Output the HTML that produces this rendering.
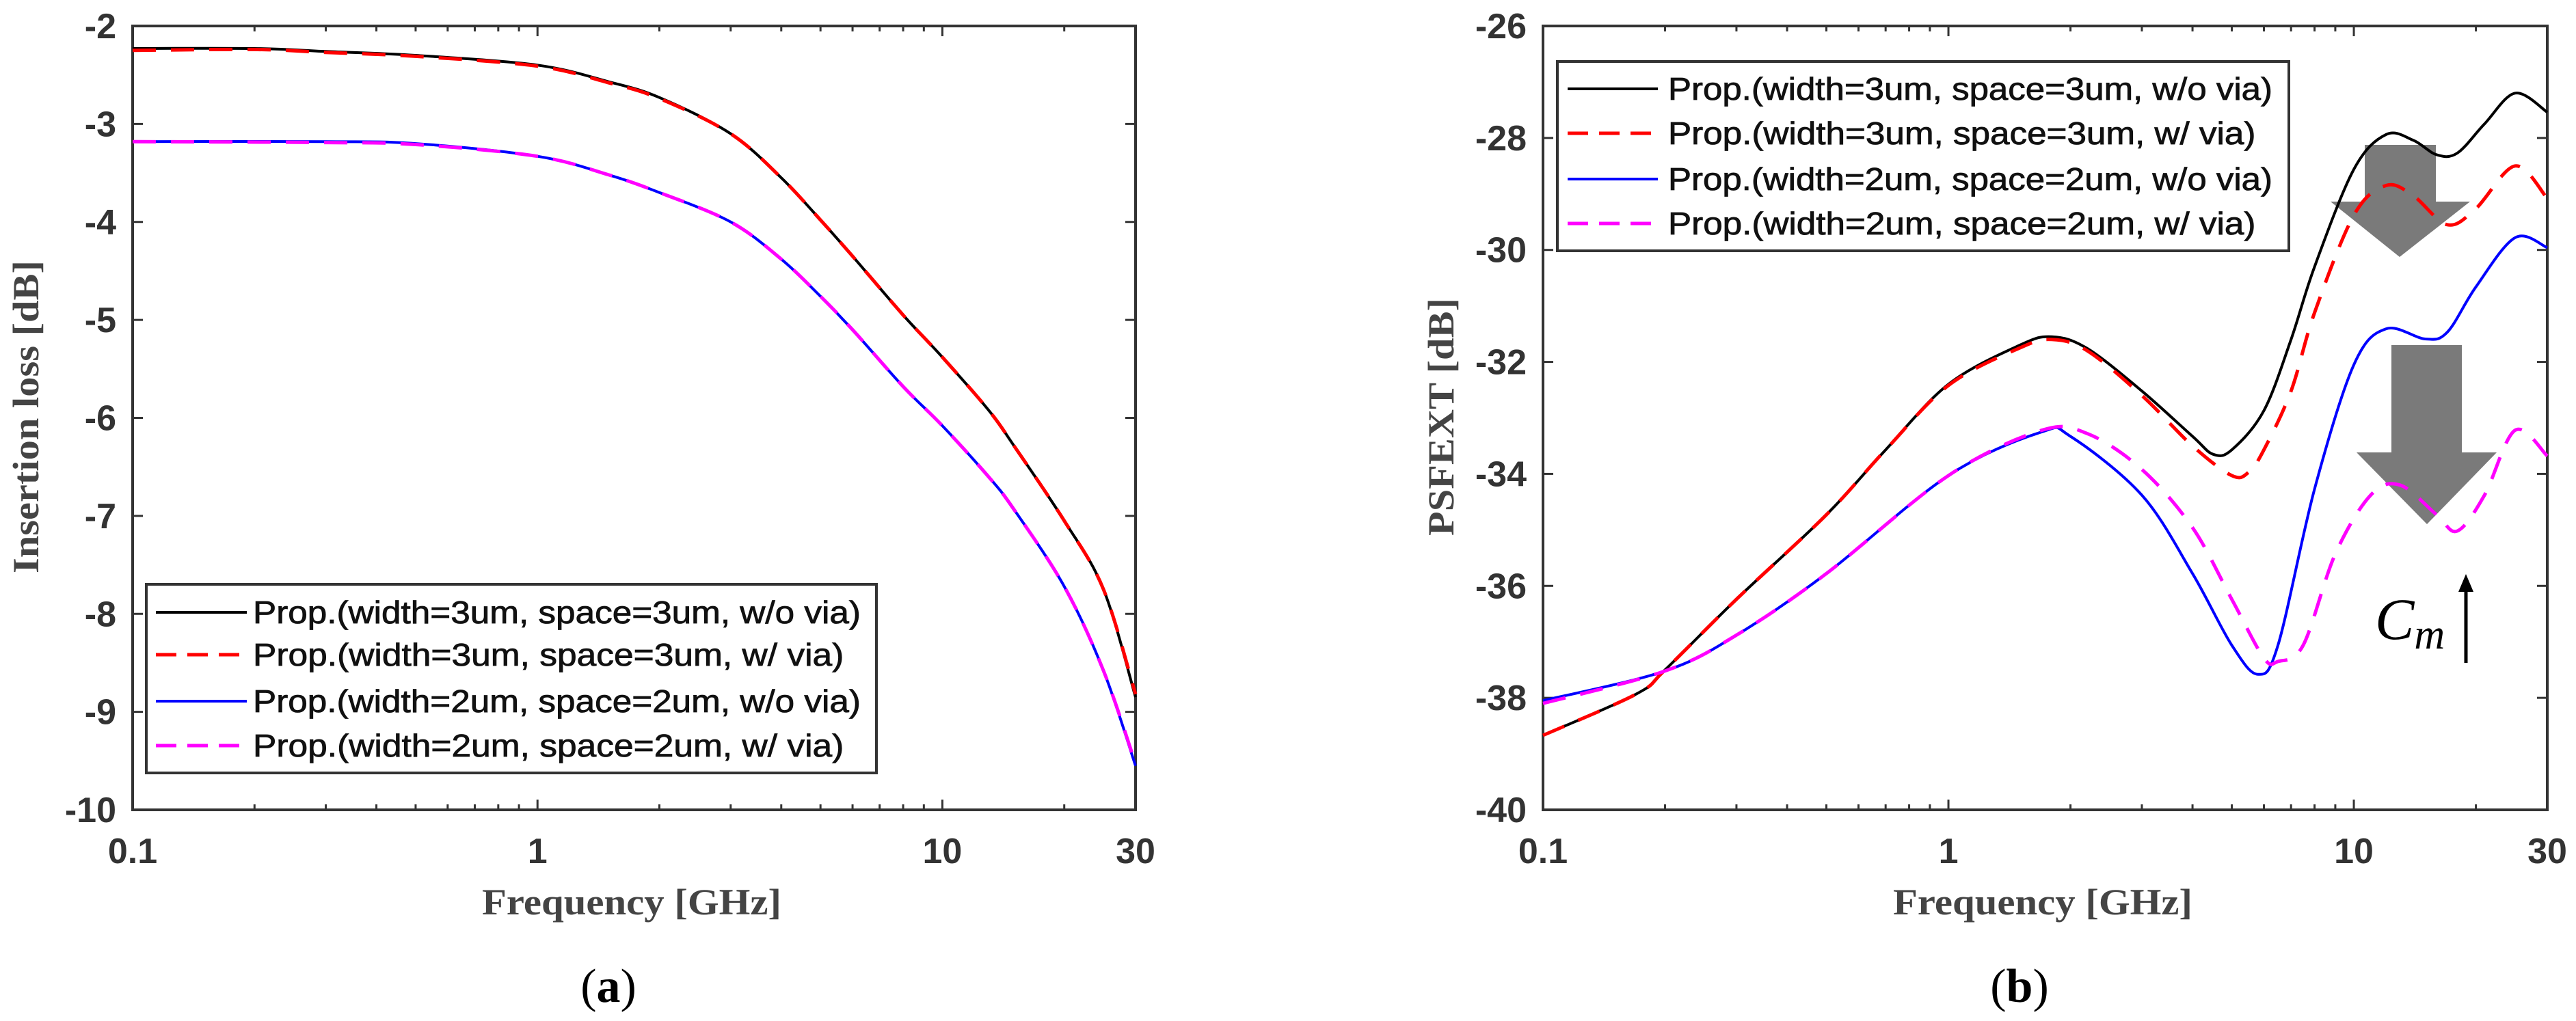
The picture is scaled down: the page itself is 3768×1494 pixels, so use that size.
<!DOCTYPE html>
<html><head><meta charset="utf-8"><style>
html,body{margin:0;padding:0;background:#fff;}
svg{display:block;}
</style></head><body>
<svg id="fig" width="3768" height="1494" viewBox="0 0 3768 1494" xmlns="http://www.w3.org/2000/svg">
<g id="pa"></g>
<g id="pb"></g>
</svg>
<script>
const NS="http://www.w3.org/2000/svg";
// Panel (a) data
const aFreqTop=[0.1,0.2,0.3,0.5,1,1.5,2,3,4,5,6,8,10,13,15,20,25,30];
const aBlack=[-2.23,-2.23,-2.26,-2.3,-2.4,-2.57,-2.73,-3.1,-3.55,-3.98,-4.35,-4.95,-5.38,-5.92,-6.28,-7.05,-7.75,-8.85];
const aRed=[-2.25,-2.24,-2.27,-2.31,-2.41,-2.58,-2.74,-3.1,-3.55,-3.98,-4.35,-4.95,-5.38,-5.92,-6.28,-7.05,-7.75,-8.82];
const aFreqBot=[0.1,0.3,0.5,1,1.5,2,3,4,5,6,8,10,13,15,20,25,30];
const aBlue=[-3.18,-3.18,-3.2,-3.33,-3.52,-3.7,-4.0,-4.38,-4.76,-5.1,-5.68,-6.08,-6.6,-6.93,-7.72,-8.58,-9.55];
const aMag=[-3.18,-3.19,-3.21,-3.33,-3.52,-3.7,-4.0,-4.38,-4.76,-5.1,-5.68,-6.08,-6.6,-6.93,-7.72,-8.58,-9.53];
const aYTicks=[-2,-3,-4,-5,-6,-7,-8,-9,-10];
// Panel (b) data
const bFreqK=[0.1,0.17,0.2,0.3,0.5,0.7,1,1.5,1.8,2.2,3,4,4.5,5,6,7,8,10,12,14,16,18,21,25,30];
const bBlack=[-38.67,-37.93,-37.5,-36.24,-34.73,-33.57,-32.4,-31.7,-31.55,-31.76,-32.52,-33.33,-33.65,-33.57,-32.87,-31.6,-30.3,-28.56,-27.94,-28.04,-28.3,-28.27,-27.75,-27.2,-27.54];
const bFreqR=[0.1,0.17,0.2,0.3,0.5,0.7,1,1.5,1.8,2.2,3,4,5,5.5,6,7,8,10,12,14,17,20,25,30];
const bRed=[-38.67,-37.93,-37.5,-36.24,-34.73,-33.57,-32.42,-31.75,-31.6,-31.8,-32.6,-33.5,-34.03,-33.97,-33.57,-32.52,-31.12,-29.38,-28.85,-29.03,-29.55,-29.26,-28.5,-29.08];
const bFreqB=[0.1,0.2,0.3,0.5,1,1.7,2,3,4,5,5.8,6.5,8,10,12,15,17,20,25,30];
const bBlue=[-38.05,-37.52,-36.88,-35.78,-34.03,-33.25,-33.33,-34.38,-35.78,-37.06,-37.58,-37.06,-34.27,-32.05,-31.41,-31.59,-31.47,-30.66,-29.78,-29.96];
const bFreqM=[0.1,0.2,0.3,0.5,1,1.7,2.2,3,4,5,6,6.5,7.5,9,11,13,16,18,21,25,30];
const bMag=[-38.1,-37.52,-36.88,-35.78,-34.03,-33.22,-33.28,-33.92,-34.96,-36.24,-37.29,-37.35,-37.06,-35.43,-34.38,-34.2,-34.73,-35.02,-34.38,-33.22,-33.68];
const bYTicks=[-26,-28,-30,-32,-34,-36,-38,-40];
const xTicks=[0.1,1,10,30];
const xTickLabels=["0.1","1","10","30"];
const legendLabels=["Prop.(width=3um, space=3um, w/o via)","Prop.(width=3um, space=3um, w/ via)","Prop.(width=2um, space=2um, w/o via)","Prop.(width=2um, space=2um, w/ via)"];

function el(tag,attrs,parent,text){const e=document.createElementNS(NS,tag);for(const k in attrs)e.setAttribute(k,attrs[k]);if(text!==undefined)e.textContent=text;parent.appendChild(e);return e;}
function mkX(x0,x1){const d=(x1-x0)/Math.log10(300);return f=>x0+d*Math.log10(f/0.1);}
function mkY(v0,v1,y0,y1){return v=>y0+(v-v0)*(y1-y0)/(v1-v0);}
function smoothPath(xs,ys,X,Y){
  const P=xs.map((f,i)=>[X(f),Y(ys[i])]);
  let d="M"+P[0][0].toFixed(1)+","+P[0][1].toFixed(1);
  for(let i=0;i<P.length-1;i++){
    const p0=P[Math.max(0,i-1)],p1=P[i],p2=P[i+1],p3=P[Math.min(P.length-1,i+2)];
    const c1=[p1[0]+(p2[0]-p0[0])/6,p1[1]+(p2[1]-p0[1])/6];
    const c2=[p2[0]-(p3[0]-p1[0])/6,p2[1]-(p3[1]-p1[1])/6];
    d+=" C"+c1[0].toFixed(1)+","+c1[1].toFixed(1)+" "+c2[0].toFixed(1)+","+c2[1].toFixed(1)+" "+p2[0].toFixed(1)+","+p2[1].toFixed(1);
  }
  return d;
}
function axes(g,L,R,T,B,X,Y,yt,ylab,ylabX,ylabLen,ylabNameRight,xlabX,panelLbl,panelX){
  el("rect",{x:L,y:T,width:R-L,height:B-T,fill:"none",stroke:"#333","stroke-width":4,},g);
  for(let dec=0.1;dec<30;dec*=10){for(let k=2;k<=9;k++){const f=dec*k;if(f>30)break;const x=X(f);
    el("line",{x1:x,y1:B,x2:x,y2:B-8,stroke:"#333","stroke-width":3},g);el("line",{x1:x,y1:T,x2:x,y2:T+8,stroke:"#333","stroke-width":3},g);}}
  xTicks.forEach((f,i)=>{const x=X(f);
    el("line",{x1:x,y1:B,x2:x,y2:B-15,stroke:"#333","stroke-width":3},g);el("line",{x1:x,y1:T,x2:x,y2:T+15,stroke:"#333","stroke-width":3},g);
    const t=el("text",{x:x,y:B+78,"text-anchor":"middle","font-family":"Liberation Sans, sans-serif","font-size":52,"font-weight":"bold",fill:"#333"},g,xTickLabels[i]);
    
    });
  yt.forEach(v=>{const y=Y(v);
    el("line",{x1:L,y1:y,x2:L+15,y2:y,stroke:"#333","stroke-width":3},g);el("line",{x1:R,y1:y,x2:R-15,y2:y,stroke:"#333","stroke-width":3},g);
    const t=el("text",{x:L-24,y:y+18,"text-anchor":"end","font-family":"Liberation Sans, sans-serif","font-size":52,"font-weight":"bold",fill:"#333"},g,String(v));
    
    });
  el("text",{x:xlabX,y:1338,"text-anchor":"middle","font-family":"Liberation Serif, serif","font-size":54,"font-weight":"bold",fill:"#444",textLength:438,lengthAdjust:"spacingAndGlyphs",},g,"Frequency [GHz]");
  el("text",{x:0,y:0,transform:`translate(${ylabX},610) rotate(-90)`,"text-anchor":"middle","font-family":"Liberation Serif, serif","font-size":54,"font-weight":"bold",fill:"#444",textLength:ylabLen,lengthAdjust:"spacingAndGlyphs",},g,ylab);
  const pl=el("text",{x:panelX,y:1466,"text-anchor":"middle","font-family":"Liberation Serif, serif","font-size":70,fill:"#000",},g);
  pl.appendChild(document.createTextNode("("));el("tspan",{"font-weight":"bold"},pl,panelLbl);pl.appendChild(document.createTextNode(")"));
}
const styles=[{c:"#000",d:null,w:4},{c:"#f00",d:"34 22",w:5},{c:"#00f",d:null,w:4},{c:"#f0f",d:"34 22",w:5}];
function series(g,xs,ys,X,Y,s,name){
  const p=el("path",{d:smoothPath(xs,ys,X,Y),fill:"none",stroke:s.c,"stroke-width":s.w,"stroke-linejoin":"round"},g);
  if(s.d)p.setAttribute("stroke-dasharray",s.d);
  
  
}
function legend(g,bx,by,bw,bh,rows,lx1,lx2,tx,tw){
  const lg=el("g",{},g);
  el("rect",{x:bx,y:by,width:bw,height:bh,fill:"#fff",stroke:"#333","stroke-width":4},lg);
  legendLabels.forEach((lab,i)=>{const s=styles[i];const y=rows[i];
    const e=el("g",{},lg);
    
    
    const l=el("line",{x1:lx1,y1:y,x2:lx2,y2:y,stroke:s.c,"stroke-width":s.w},e);if(s.d)l.setAttribute("stroke-dasharray","30 16");
    el("text",{x:tx,y:y+16,"font-family":"Liberation Sans, sans-serif","font-size":46,fill:"#111",stroke:"#111","stroke-width":0.8,textLength:tw*(lab.length/36),lengthAdjust:"spacingAndGlyphs"},e,lab);});
}
// Panel a
(function(){const g=document.getElementById("pa");const L=194,R=1661,T=38,B=1185;
  const X=mkX(L,R),Y=mkY(-2,-10,T,B);
  axes(g,L,R,T,B,X,Y,aYTicks,"Insertion loss [dB]",56,458,false,924,"a",890);
  const cg=el("g",{},g);
  series(cg,aFreqTop,aBlack,X,Y,styles[0],"series-3um-no-via");
  series(cg,aFreqTop,aRed,X,Y,styles[1],"series-3um-via");
  series(cg,aFreqBot,aBlue,X,Y,styles[2],"series-2um-no-via");
  series(cg,aFreqBot,aMag,X,Y,styles[3],"series-2um-via");
  legend(g,214,855,1068,276,[896,958,1026,1091],228,361,370,889);
})();
// Panel b
(function(){const g=document.getElementById("pb");const L=2257,R=3726,T=38,B=1185;
  const X=mkX(L,R),Y=mkY(-26,-40,T,B);
  axes(g,L,R,T,B,X,Y,bYTicks,"PSFEXT [dB]",2126,348,false,2988,"b",2954);
  const ag=el("g",{fill:"#7a7a7a"},g);
  el("polygon",{points:"3459,212 3563,212 3563,295 3613,295 3510,376 3409,295 3459,295"},ag);
  el("polygon",{points:"3498,505 3601,505 3601,662 3652,662 3550,767 3447,662 3498,662"},ag);
  const cg=el("g",{},g);
  series(cg,bFreqK,bBlack,X,Y,styles[0],"series-3um-no-via");
  series(cg,bFreqR,bRed,X,Y,styles[1],"series-3um-via");
  series(cg,bFreqB,bBlue,X,Y,styles[2],"series-2um-no-via");
  series(cg,bFreqM,bMag,X,Y,styles[3],"series-2um-via");
  const cm=el("text",{x:3474,y:935,"font-family":"Liberation Serif, serif","font-size":86,"font-style":"italic",fill:"#000",},g,"C");
  el("tspan",{"font-size":62,dy:14},cm,"m");
  el("line",{x1:3607,y1:970,x2:3607,y2:862,stroke:"#000","stroke-width":5,},g);
  el("polygon",{points:"3596,866 3618,866 3607,840",fill:"#000"},g);
  legend(g,2278,90,1070,277,[130,195,262,327],2293,2425,2440,884);
})();
</script>
</body></html>
